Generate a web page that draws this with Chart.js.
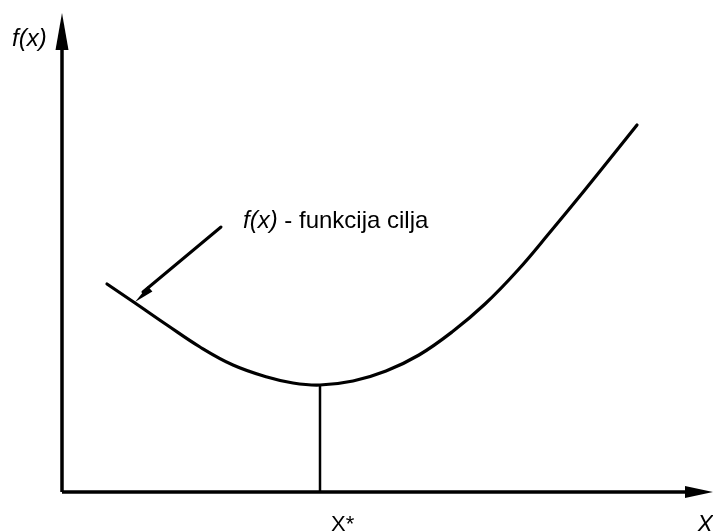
<!DOCTYPE html>
<html>
<head>
<meta charset="utf-8">
<script src="https://cdn.jsdelivr.net/npm/chart.js@4/dist/chart.umd.min.js"></script>
<style>
  html, body { margin: 0; padding: 0; background: #fff; }
  #c { display: block; }
</style>
</head>
<body>
<canvas id="c" width="713" height="531"></canvas>
<script>
// Objective function f(x) (abstract units, origin at the axes' intersection)
const curveX = [45, 73, 105, 138, 171, 205, 231, 258, 291, 324, 357, 390, 423, 456, 489, 522, 555, 575];
const curveY = [208, 189, 167, 145, 127, 115, 109, 107, 111, 121, 137, 160, 188, 222, 261, 301, 342, 367];
// Optimum X*
const optimumX = [258];
const optimumY = [107];
// Axis extents (arrow tips)
const axisXEnd = [651];
const axisYEnd = [479];
// Annotation pointer: start and tip
const pointerX = [159, 73];
const pointerY = [265, 190];
// Texts
const axisLabelY = 'f(x)';
const axisLabelX = 'X';
const optimumLabel = 'X*';
const annotItalic = 'f(x)';
const annotText = ' - funkcija cilja';

const curveData = curveX.map((x, i) => ({ x, y: curveY[i] }));
const vertData = [{ x: optimumX[0], y: 0 }, { x: optimumX[0], y: optimumY[0] }];
const yAxisData = [{ x: 0, y: 0 }, { x: 0, y: axisYEnd[0] - 34 }];
const xAxisData = [{ x: 0, y: 0 }, { x: axisXEnd[0] - 26, y: 0 }];
const pointerData = [{ x: pointerX[0], y: pointerY[0] }, { x: pointerX[1] + 8, y: pointerY[1] + 10 }];

const FONT = '"Liberation Sans", Arial, sans-serif';

const decor = {
  id: 'decor',
  afterDatasetsDraw(chart) {
    const ctx = chart.ctx;
    const xs = chart.scales.x, ys = chart.scales.y;
    const px = v => xs.getPixelForValue(v);
    const py = v => ys.getPixelForValue(v);
    ctx.save();
    ctx.fillStyle = '#000';
    // Y axis arrowhead
    const yTip = py(axisYEnd[0]), yBase = py(axisYEnd[0] - 37);
    ctx.beginPath();
    ctx.moveTo(px(0), yTip);
    ctx.lineTo(px(0) - 6.5, yBase);
    ctx.lineTo(px(0) + 6.5, yBase);
    ctx.closePath();
    ctx.fill();
    // X axis arrowhead
    const xTip = px(axisXEnd[0]), xBase = px(axisXEnd[0] - 28);
    ctx.beginPath();
    ctx.moveTo(xTip, py(0));
    ctx.lineTo(xBase, py(0) - 6);
    ctx.lineTo(xBase, py(0) + 6);
    ctx.closePath();
    ctx.fill();
    // Pointer arrowhead
    const tx = px(pointerX[1]), ty = py(pointerY[1]);
    const sx = px(pointerX[0]), sy = py(pointerY[0]);
    const ang = Math.atan2(ty - sy, tx - sx);
    const L = 20, W = 3.5;
    const bx = tx - L * Math.cos(ang), by = ty - L * Math.sin(ang);
    ctx.beginPath();
    ctx.moveTo(tx, ty);
    ctx.lineTo(bx + W * Math.sin(ang), by - W * Math.cos(ang));
    ctx.lineTo(bx - W * Math.sin(ang), by + W * Math.cos(ang));
    ctx.closePath();
    ctx.fill();
    // Texts
    ctx.textBaseline = 'alphabetic';
    ctx.textAlign = 'left';
    ctx.font = 'italic 24px ' + FONT;
    ctx.fillText(axisLabelY, 12, 46);
    ctx.fillText(axisLabelX, 697, 532);
    ctx.font = '22px ' + FONT;
    ctx.fillText(optimumLabel, 331, 531);
    ctx.font = 'italic 24px ' + FONT;
    const ax = 243, ay = 228;
    ctx.fillText(annotItalic, ax, ay);
    const w = ctx.measureText(annotItalic).width;
    ctx.font = '24px ' + FONT;
    ctx.fillText(annotText, ax + w, ay);
    ctx.restore();
  }
};

new Chart(document.getElementById('c'), {
  type: 'scatter',
  data: {
    datasets: [
      { data: curveData, showLine: true, borderColor: '#000', borderWidth: 3.2, pointRadius: 0, tension: 0.4, borderCapStyle: 'round' },
      { data: vertData, showLine: true, borderColor: '#000', borderWidth: 2.5, pointRadius: 0 },
      { data: yAxisData, showLine: true, borderColor: '#000', borderWidth: 3.5, pointRadius: 0 },
      { data: xAxisData, showLine: true, borderColor: '#000', borderWidth: 3.5, pointRadius: 0 },
      { data: pointerData, showLine: true, borderColor: '#000', borderWidth: 3, pointRadius: 0, borderCapStyle: 'round' }
    ]
  },
  options: {
    responsive: false,
    animation: false,
    layout: { padding: 0 },
    plugins: { legend: { display: false }, tooltip: { enabled: false } },
    scales: {
      x: { type: 'linear', min: -62, max: 651, display: false },
      y: { type: 'linear', min: -39, max: 492, display: false }
    }
  },
  plugins: [decor]
});
</script>
</body>
</html>
